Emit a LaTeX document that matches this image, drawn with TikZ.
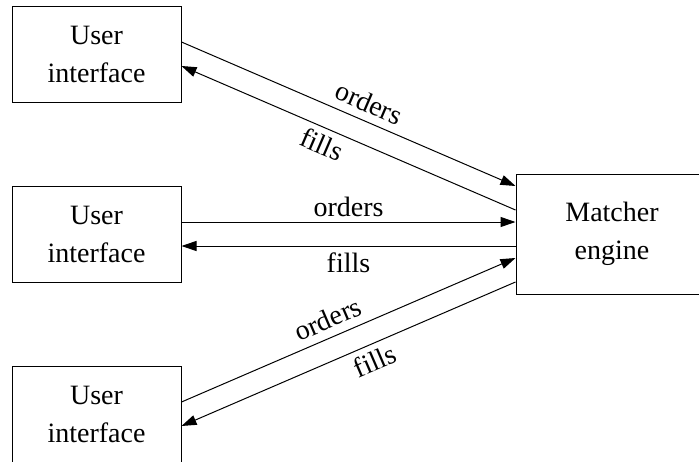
\documentclass[tikz,border=0pt]{standalone}
\usepackage{fontspec}
\newfontfamily\diagfont{Liberation Serif}
\usetikzlibrary{arrows.meta}
\begin{document}
\begin{tikzpicture}[x=1pt,y=-1pt,
  box/.style={draw,line width=1pt,minimum width=169pt,minimum height=96pt,
    inner sep=0pt,align=center,font=\diagfont\fontsize{28}{38}\selectfont},
  link/.style={line width=1pt,-{Triangle[length=15pt,width=10pt]}},
  lbl/.style={font=\diagfont\fontsize{28}{34}\selectfont,sloped,inner sep=2pt}]
\useasboundingbox (0,0) rectangle (699,461);
% user interfaces on the left, matcher on the right
\node[box] (ui1) at (96.5,54) {User\\interface};
\node[box] (ui2) at (96.5,234) {User\\interface};
\node[box] (ui3) at (96.5,414) {User\\interface};
\node[box,minimum width=192pt,minimum height=120pt] (me) at (612,234) {Matcher\\engine};
% order and fill flows
\draw[link] ([yshift=12pt]ui1.east) -- node[lbl,pos=0.54,above=6pt] {orders} ([yshift=48pt]me.west);
\draw[link] ([yshift=24pt]me.west) -- node[lbl,pos=0.56,below=4pt] {fills} ([yshift=-12pt]ui1.east);
\draw[link] ([yshift=12pt]ui2.east) -- node[lbl,pos=0.5,above=3pt] {orders} ([yshift=12pt]me.west);
\draw[link] ([yshift=-12pt]me.west) -- node[lbl,pos=0.5,below=4pt] {fills} ([yshift=-12pt]ui2.east);
\draw[link] ([yshift=12pt]ui3.east) -- node[lbl,pos=0.46,above=6pt] {orders} ([yshift=-24pt]me.west);
\draw[link] ([yshift=-48pt]me.west) -- node[lbl,pos=0.44,below=4pt] {fills} ([yshift=-12pt]ui3.east);
\end{tikzpicture}
\end{document}
